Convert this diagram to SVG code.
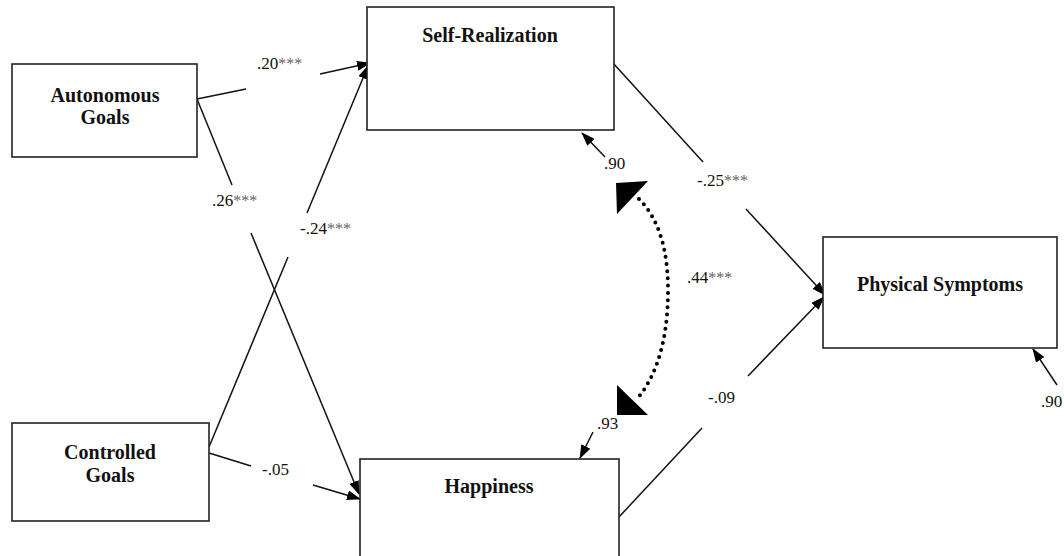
<svg xmlns="http://www.w3.org/2000/svg" width="1064" height="556" viewBox="0 0 1064 556">
  <style>
    .box { fill: #fff; stroke: #222; stroke-width: 1.6; }
    .node { font-family: "Liberation Serif", "Times New Roman", serif; font-weight: bold; font-size: 20px; fill: #111; text-anchor: middle; }
    .lbl { font-family: "Liberation Serif", "Times New Roman", serif; font-size: 17px; fill: #111; }
    .star { fill: #666; font-size: 16px; }
    .edge { stroke: #111; stroke-width: 1.5; fill: none; }
    .arr { marker-end: url(#ah); }
    .cov { stroke: #000; stroke-width: 4; fill: none; stroke-linecap: round; stroke-dasharray: 0 7.2; }
  </style>
  <defs>
    <marker id="ah" markerUnits="userSpaceOnUse" markerWidth="14" markerHeight="10" viewBox="0 0 14 10" refX="13" refY="5" orient="auto">
      <path d="M0,0 L14,5 L0,10 Z" fill="#000"/>
    </marker>
  </defs>
  <rect width="1064" height="556" fill="#fff"/>

  <g id="connectors">
    <!-- Autonomous -> Self-Realization -->
    <line class="edge" x1="197" y1="99" x2="246" y2="89"/>
    <line class="edge arr" x1="320" y1="74" x2="370" y2="63"/>
    <!-- Autonomous -> Happiness -->
    <line class="edge" x1="197" y1="99" x2="232" y2="185"/>
    <line class="edge arr" x1="251" y1="233" x2="359" y2="494"/>
    <!-- Controlled -> Self-Realization -->
    <line class="edge" x1="209" y1="447" x2="288" y2="257"/>
    <line class="edge arr" x1="307" y1="213" x2="368" y2="66"/>
    <!-- Controlled -> Happiness -->
    <line class="edge" x1="209" y1="453" x2="251" y2="466"/>
    <line class="edge arr" x1="313" y1="485" x2="360" y2="499"/>
    <!-- Self-Realization -> Physical Symptoms -->
    <line class="edge" x1="613" y1="63" x2="703" y2="162"/>
    <line class="edge arr" x1="746" y1="209" x2="825" y2="295"/>
    <!-- Happiness -> Physical Symptoms -->
    <line class="edge" x1="619" y1="517" x2="702" y2="428"/>
    <line class="edge arr" x1="748" y1="376" x2="824" y2="297"/>
    <!-- error terms -->
    <line class="edge arr" x1="605" y1="157" x2="582" y2="133"/>
    <line class="edge arr" x1="593" y1="432" x2="580" y2="458"/>
    <line class="edge arr" x1="1057" y1="385" x2="1033" y2="349"/>
    <!-- covariance -->
    <path class="cov" d="M639,199 Q668,228 668,290 Q668,362 637,399"/>
    <polygon points="616,183 648,181 617,214" fill="#000"/>
    <polygon points="617,385 617,415 648,415" fill="#000"/>

    <!-- labels -->
    <text class="lbl" x="257" y="69">.20<tspan class="star">***</tspan></text>
    <text class="lbl" x="212" y="206">.26<tspan class="star">***</tspan></text>
    <text class="lbl" x="300" y="234">-.24<tspan class="star">***</tspan></text>
    <text class="lbl" x="262" y="475">-.05</text>
    <text class="lbl" x="697" y="186">-.25<tspan class="star">***</tspan></text>
    <text class="lbl" x="708" y="403">-.09</text>
    <text class="lbl" x="687" y="283">.44<tspan class="star">***</tspan></text>
    <text class="lbl" x="604" y="169">.90</text>
    <text class="lbl" x="597" y="429">.93</text>
    <text class="lbl" x="1041" y="407">.90</text>
  </g>

  <g id="autonomous">
    <rect class="box" x="12" y="64" width="185" height="93"/>
    <text class="node" x="105" y="102">Autonomous</text>
    <text class="node" x="105" y="124">Goals</text>
  </g>
  <g id="controlled">
    <rect class="box" x="12" y="423" width="197" height="98"/>
    <text class="node" x="110" y="459">Controlled</text>
    <text class="node" x="110" y="482">Goals</text>
  </g>
  <g id="self-realization">
    <rect class="box" x="367" y="7" width="247" height="123"/>
    <text class="node" x="490" y="42">Self-Realization</text>
  </g>
  <g id="happiness">
    <rect class="box" x="360" y="459" width="259" height="120"/>
    <text class="node" x="489" y="493">Happiness</text>
  </g>
  <g id="physical-symptoms">
    <rect class="box" x="823" y="237" width="234" height="111"/>
    <text class="node" x="940" y="291">Physical Symptoms</text>
  </g>
</svg>
